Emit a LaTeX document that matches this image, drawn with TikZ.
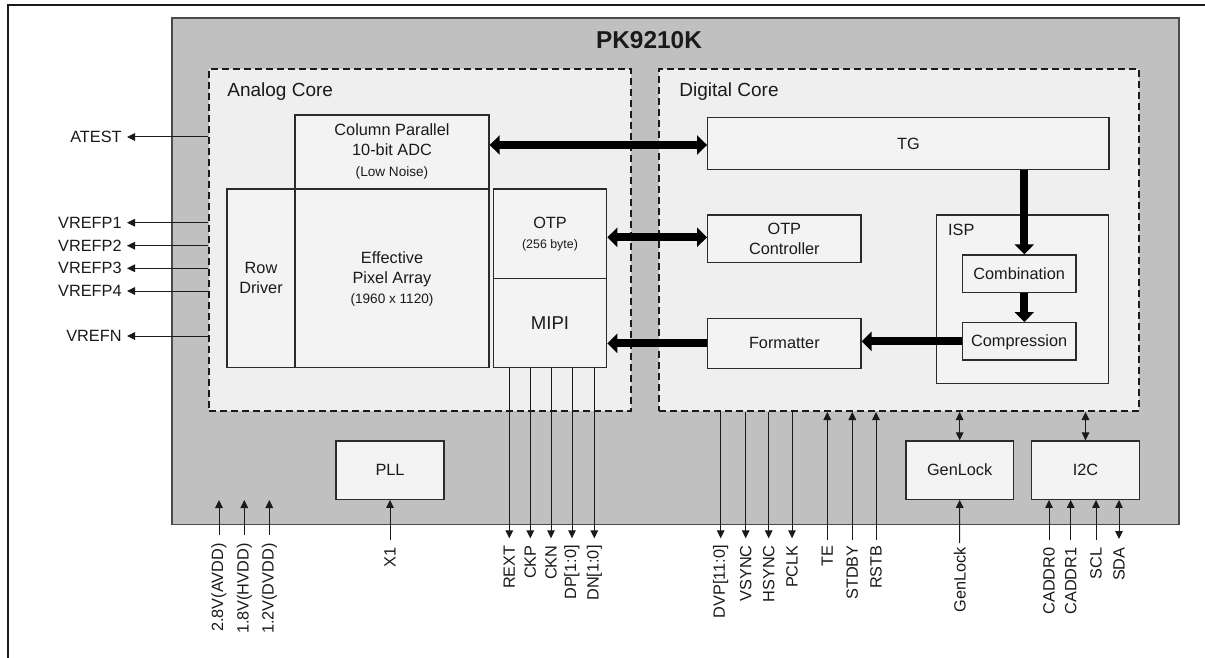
\documentclass[tikz,border=0pt]{standalone}
\usepackage{fontspec}
\setmainfont{Liberation Sans}
\usetikzlibrary{arrows.meta,fit,calc}
\definecolor{chipgray}{HTML}{C0C0C0}
\definecolor{corefill}{HTML}{EFEFEF}
\definecolor{boxfill}{HTML}{F3F3F3}
\definecolor{ink}{HTML}{1A1A1A}
\definecolor{edge}{HTML}{2B2B2B}
\tikzset{
  chip/.style={draw=edge!85, line width=0.55pt, fill=chipgray, inner sep=0pt},
  core/.style={draw=ink, fill=corefill, dash pattern=on 3.5pt off 2pt, line width=1pt, inner sep=0pt},
  blk/.style={draw=edge, fill=boxfill, line width=0.65pt, inner sep=0pt},
  boxtxt/.style={inner sep=0pt, align=center, text=ink, font=\fontsize{8.15}{10}\selectfont},
  corelab/.style={anchor=west, inner sep=0pt, text=ink, font=\fontsize{9.5}{11}\selectfont},
  titlelab/.style={inner sep=0pt, text=ink, font=\bfseries\fontsize{12.2}{14}\selectfont},
  pinlab/.style={inner sep=0pt, text=ink, font=\fontsize{8.15}{10}\selectfont},
  pinarr/.style={draw=ink, line width=0.5pt, >={Triangle[length=4pt,width=3.8pt]}, ->},
  pinbi/.style={draw=ink, line width=0.5pt, >={Triangle[length=4pt,width=3.8pt]}, <->},
  bigarr/.style={draw=black, line width=4pt, >={Triangle[length=5pt,width=9.5pt]}, ->},
  bigbi/.style={draw=black, line width=4pt, >={Triangle[length=5pt,width=9.5pt]}, <->}
}
\begin{document}
\begin{tikzpicture}[x=0.5pt,y=-0.5pt]
\useasboundingbox (0,0) rectangle (1205,658);
\fill[white] (0,0) rectangle (1205,658);
\draw[line width=1pt, ink] (7.5,658) -- (7.5,5) -- (1205,5);

% chip and cores
\node[chip, fit={(172,18) (1179,524.3)}] (chip) {};
\node[titlelab] (ttl) at (649,40.5) {PK9210K};
\node[core, fit={(209,69) (631,411)}] (ac) {};
\node[core, fit={(659.3,69) (1139.3,411)}] (dc) {};
\node[corelab] (acl) at (227,92) {Analog Core};
\node[corelab] (dcl) at (679,92) {Digital Core};

% analog blocks
\node[blk, fit={(295,115) (489,189)},
  label={[boxtxt, yshift=0.3pt]center:{Column Parallel\\10-bit ADC\\[0.6pt]{\fontsize{6.8}{8}\selectfont (Low Noise)}}}] (adc) {};
\node[blk, fit={(227,189) (295,367.7)}, label={[boxtxt]center:{Row\\Driver}}] (row) {};
\node[blk, fit={(295,189) (489,367.7)},
  label={[boxtxt, yshift=-0.3pt]center:{Effective\\Pixel Array\\[0.3pt]{\fontsize{6.8}{8}\selectfont (1960 x 1120)}}}] (pix) {};
\node[blk, fit={(493.3,189) (606.7,278.8)},
  label={[boxtxt]center:{OTP\\{\fontsize{6.2}{7}\selectfont (256 byte)}}}] (otp) {};
\node[blk, fit={(493.3,278.8) (606.7,367.5)},
  label={[boxtxt, font=\fontsize{9.3}{11}\selectfont]center:MIPI}] (mipi) {};

% digital blocks
\node[blk, fit={(707.7,117.7) (1109,169.7)}, label={[boxtxt]center:TG}] (tg) {};
\node[blk, fit={(707.7,215) (861,262.7)}, label={[boxtxt]center:{OTP\\Controller}}] (otpc) {};
\node[blk, fit={(707.7,318.5) (861,368.3)}, label={[boxtxt]center:Formatter}] (fmt) {};
\node[blk, fit={(936.7,215) (1108.3,383.3)}] (isp) {};
\node[pinlab, anchor=west] (ispl) at (947.7,230) {ISP};
\node[blk, fit={(962.3,255) (1076,292.3)}, label={[boxtxt]center:Combination}] (comb) {};
\node[blk, fit={(962.3,322.7) (1076,360)}, label={[boxtxt, yshift=-0.4pt]center:Compression}] (comp) {};

% lower blocks
\node[blk, fit={(336,441) (444,499.3)}, label={[boxtxt]center:PLL}] (pll) {};
\node[blk, fit={(906,441) (1013.3,499.3)}, label={[boxtxt]center:GenLock}] (gl) {};
\node[blk, fit={(1031.7,441) (1139.3,499.3)}, label={[boxtxt]center:I2C}] (i2c) {};

% thick data paths
\coordinate (yA) at (0,145);
\coordinate (yB) at (0,237.3);
\coordinate (xC) at (1024.3,0);
\draw[bigbi] (adc.east |- yA) -- (tg.west |- yA);
\draw[bigbi] (otp.east |- yB) -- (otpc.west |- yB);
\draw[bigarr] (fmt.west) -- (mipi.east |- fmt.west);
\draw[bigarr] (comp.west) -- (fmt.east |- comp.west);
\draw[bigarr] (tg.south -| xC) -- (comb.north -| xC);
\draw[bigarr] (comb.south -| xC) -- (comp.north -| xC);

% left pins
\foreach \yy/\lab/\nm in {137/ATEST/at, 222.7/VREFP1/v1, 245.7/VREFP2/v2, 268.3/VREFP3/v3, 291/VREFP4/v4, 336/VREFN/vn}{
  \node[pinlab, anchor=east] (l\nm) at (122,\yy) {\lab};
  \draw[pinarr] (ac.west |- l\nm) -- ([xshift=2.5pt]l\nm.east);
}

% power pins
\foreach \xx/\lab/\nm in {219/2.8V(AVDD)/p1, 244.3/1.8V(HVDD)/p2, 269.3/1.2V(DVDD)/p3}{
  \node[pinlab, rotate=90, anchor=east] (l\nm) at (\xx,543) {\lab};
  \coordinate (s\nm) at (\xx,535);
  \coordinate (e\nm) at (\xx,500);
  \draw[pinarr] (s\nm) -- (e\nm);
}

% X1
\node[pinlab, rotate=90, anchor=east] (lx1) at (390,547) {X1};
\coordinate (sx1) at (390,540);
\draw[pinarr] (sx1) -- (pll.south);

% MIPI pins
\foreach \xx/\lab/\nm in {509.3/REXT/m1, 530.3/CKP/m2, 551/CKN/m3, 572/DP[1:0]/m4, 594.3/DN[1:0]/m5}{
  \node[pinlab, rotate=90, anchor=east] (l\nm) at (\xx,545) {\lab};
  \coordinate (e\nm) at (\xx,538.3);
  \draw[pinarr] (mipi.south -| e\nm) -- (e\nm);
}

% digital outputs
\foreach \xx/\lab/\nm in {720.7/DVP[11:0]/d1, 745.7/VSYNC/d2, 768.7/HSYNC/d3, 792/PCLK/d4}{
  \node[pinlab, rotate=90, anchor=east] (l\nm) at (\xx,545) {\lab};
  \coordinate (e\nm) at (\xx,538.3);
  \draw[pinarr] (dc.south -| e\nm) -- (e\nm);
}

% digital inputs
\foreach \xx/\lab/\nm in {827.3/TE/i1, 852.3/STDBY/i2, 876/RSTB/i3}{
  \node[pinlab, rotate=90, anchor=east] (l\nm) at (\xx,545) {\lab};
  \coordinate (s\nm) at (\xx,540);
  \draw[pinarr] (s\nm) -- (dc.south -| s\nm);
}

% GenLock
\draw[pinbi] (dc.south -| gl.north) -- (gl.north);
\node[pinlab, rotate=90, anchor=east] (lgl) at (959.7,547) {GenLock};
\coordinate (sgl) at (959.7,543);
\draw[pinarr] (sgl) -- (gl.south);

% I2C
\draw[pinbi] (dc.south -| i2c.north) -- (i2c.north);
\foreach \xx/\lab/\nm in {1049/CADDR0/c1, 1070.7/CADDR1/c2, 1096/SCL/c3}{
  \node[pinlab, rotate=90, anchor=east] (l\nm) at (\xx,547) {\lab};
  \coordinate (s\nm) at (\xx,540);
  \draw[pinarr] (s\nm) -- (i2c.south -| s\nm);
}
\node[pinlab, rotate=90, anchor=east] (lsda) at (1119,547) {SDA};
\coordinate (ssda) at (1119,539);
\draw[pinbi] (i2c.south -| ssda) -- (ssda);
\end{tikzpicture}
\end{document}
